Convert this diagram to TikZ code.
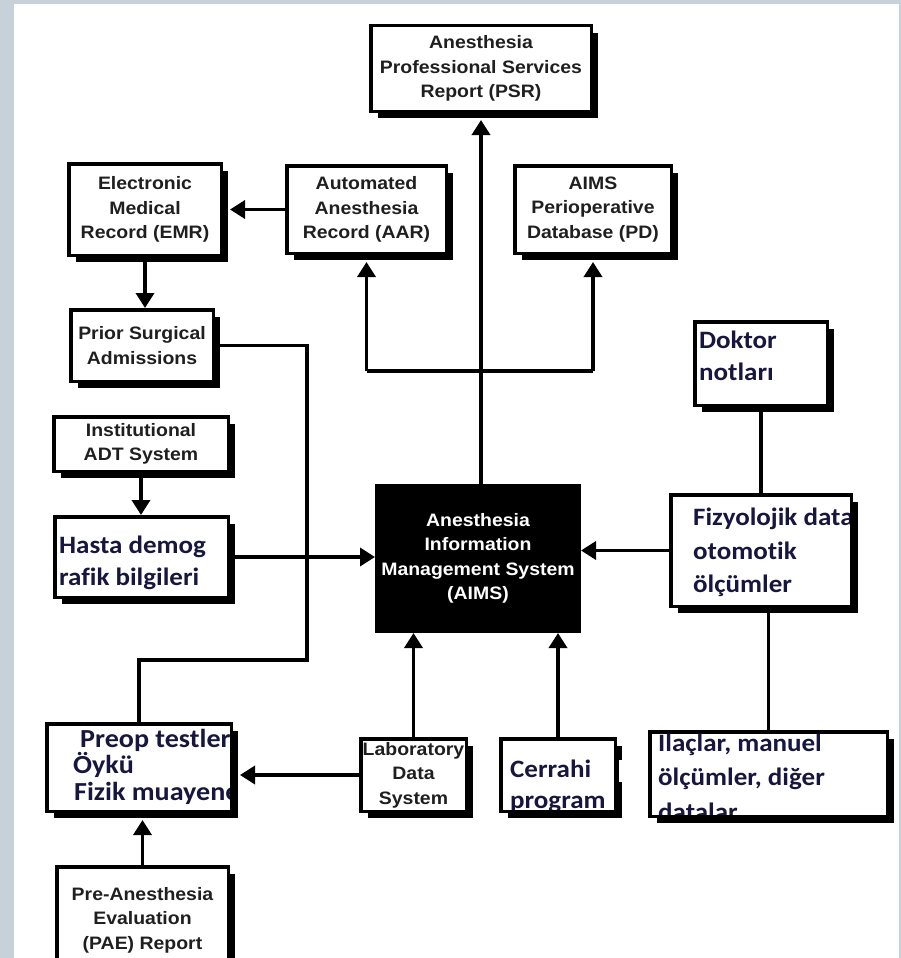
\documentclass[tikz,border=0pt]{standalone}
\usepackage{fontspec}
\setmainfont{Liberation Sans}[FakeStretch=1.08]
\newfontfamily\trfont{Carlito}[FakeStretch=1.08,Ligatures=NoCommon]
\usetikzlibrary{arrows.meta,shadows}
\definecolor{framegray}{HTML}{C6D1D9}
\definecolor{navy}{HTML}{16163E}

% box from outer corners (x1,y1)-(x2,y2); line width 3.5pt
\newcommand\mkbox[7]{%
  \pgfmathsetmacro\bxcx{(#2+#4)/2}\pgfmathsetmacro\bxcy{(#3+#5)/2}%
  \pgfmathsetmacro\bxw{#4-#2-3.5}\pgfmathsetmacro\bxh{#5-#3-3.5}%
  \node[#6, minimum width=\bxw pt, minimum height=\bxh pt] (#1) at (\bxcx,\bxcy) {#7};}
% clip region: inside of a box's border
\newcommand\inside[1]{\clip ([shift={(3.5pt,-3.5pt)}]#1.north west) rectangle ([shift={(-3.5pt,3.5pt)}]#1.south east);}

\begin{document}
\begin{tikzpicture}[x=1pt,y=-1pt,
  box/.style={draw=black, line width=3.5pt, fill=white, inner sep=0pt, align=center,
    font=\fontsize{18}{24.5}\selectfont\bfseries, text=black!88,
    general shadow={fill=black, shadow xshift=7pt, shadow yshift=-7pt}},
  corebox/.style={draw=black, line width=3.5pt, fill=black, inner sep=0pt, align=center,
    font=\fontsize{18}{24.5}\selectfont\bfseries, text=white},
  tr/.style={font=\trfont\fontsize{25}{30}\selectfont\bfseries, text=navy, inner sep=0pt, anchor=base west},
  trbig/.style={tr, font=\trfont\fontsize{26}{30}\selectfont\bfseries},
  link/.style={line width=3.5pt},
  arr/.style={line width=3.5pt, -{Triangle[length=15pt,width=18pt]}},
  arrs/.style={arr, shorten >=7pt},
]
\fill[framegray] (0,0) rectangle (901,958);
\fill[white] (14,4) rectangle (899,958);
\useasboundingbox (0,0) rectangle (901,958);
\begin{scope}
\clip (14,4) rectangle (899,958);

% boxes
\mkbox{psr}{369}{24}{593}{113}{box}{Anesthesia\\Professional Services\\Report (PSR)}
\mkbox{emr}{67}{162}{223}{257}{box}{Electronic\\Medical\\Record (EMR)}
\mkbox{aar}{285}{164}{448}{255}{box}{Automated\\Anesthesia\\Record (AAR)}
\mkbox{pd}{513}{164}{673}{255}{box}{AIMS\\Perioperative\\Database (PD)}
\mkbox{prior}{69}{308}{215}{383}{box}{Prior Surgical\\Admissions}
\mkbox{adt}{52}{415}{230}{473}{box}{Institutional\\ADT System}
\mkbox{hasta}{53}{515}{230}{599}{box}{}
\mkbox{aims}{375}{484}{581}{633}{corebox}{Anesthesia\\Information\\Management System\\(AIMS)}
\mkbox{dok}{693}{320}{829}{407}{box}{}
\mkbox{fiz}{669}{493}{853}{608}{box}{}
\mkbox{preop}{45}{722}{233}{813}{box}{}
\mkbox{lab}{359}{737}{468}{813}{box}{Laboratory\\Data\\System}
\mkbox{cer}{499}{737}{617}{813}{box}{}
\mkbox{ilac}{648}{730}{889}{818}{box}{}
\mkbox{pae}{55}{865}{230}{975}{box}{Pre-Anesthesia\\Evaluation\\(PAE) Report}

% break in the shadow of the surgery-program box
\fill[white] (618.8,760) rectangle (625,782);

% left-aligned Turkish labels, cut off by their box borders
\begin{scope}\inside{hasta}
  \node[tr] (hasta-1) at (59,553) {Hasta demog};
  \node[tr] (hasta-2) at (59,585) {rafik bilgileri};
\end{scope}
\begin{scope}\inside{dok}
  \node[tr] (dok-1) at (699,348) {Doktor};
  \node[tr] (dok-2) at (699,380) {notları};
\end{scope}
\begin{scope}\inside{fiz}
  \node[tr] (fiz-1) at (693,525) {Fizyolojik data};
  \node[tr] (fiz-2) at (693,559) {otomotik};
  \node[tr] (fiz-3) at (693,592) {ölçümler};
\end{scope}
\begin{scope}\inside{preop}
  \node[trbig] (preop-1) at (80,747) {Preop testler};
  \node[trbig] (preop-2) at (73,773) {Öykü};
  \node[trbig] (preop-3) at (74,800) {Fizik muayene};
\end{scope}
\begin{scope}\inside{cer}
  \node[tr] (cer-1) at (510,777) {Cerrahi};
  \node[tr] (cer-2) at (510,808) {program};
\end{scope}
\begin{scope}\inside{ilac}
  \node[tr] (ilac-1) at (658,751) {İlaçlar, manuel};
  \node[tr] (ilac-2) at (658,785) {ölçümler, diğer};
  \node[tr] (ilac-3) at (658,820) {datalar};
\end{scope}

% connectors
\coordinate (bl) at (366.5,371);
\coordinate (br) at (593,371);
\coordinate (bend) at (307,660);

\draw[arrs] (aims.north -| psr.south) -- (psr.south);
\draw[link] (bl) -- (br);
\draw[arrs] (bl) -- (aar.south);
\draw[arrs] (br) -- (pd.south);
\draw[arrs] (aar.west) -- (aar.west -| emr.east);
\draw[arr] (emr.south) -- (emr.south |- prior.north);
\draw[link] (prior.east) -| (bend) -| (preop.north);
\draw[arr] (adt.south) -- (adt.south |- hasta.north);
\draw[arr] (hasta.east) -- (hasta.east -| aims.west);
\draw[link] (dok.south) -- (dok.south |- fiz.north);
\draw[arr] (fiz.west) -- (fiz.west -| aims.east);
\draw[link] (ilac.north) -- (ilac.north |- fiz.south);
\draw[arr] (lab.north) -- (lab.north |- aims.south);
\draw[arr] (cer.north) -- (cer.north |- aims.south);
\draw[arrs] (lab.west) -- (lab.west -| preop.east);
\draw[arrs] (pae.north) -- (pae.north |- preop.south);
\end{scope}
\end{tikzpicture}
\end{document}
